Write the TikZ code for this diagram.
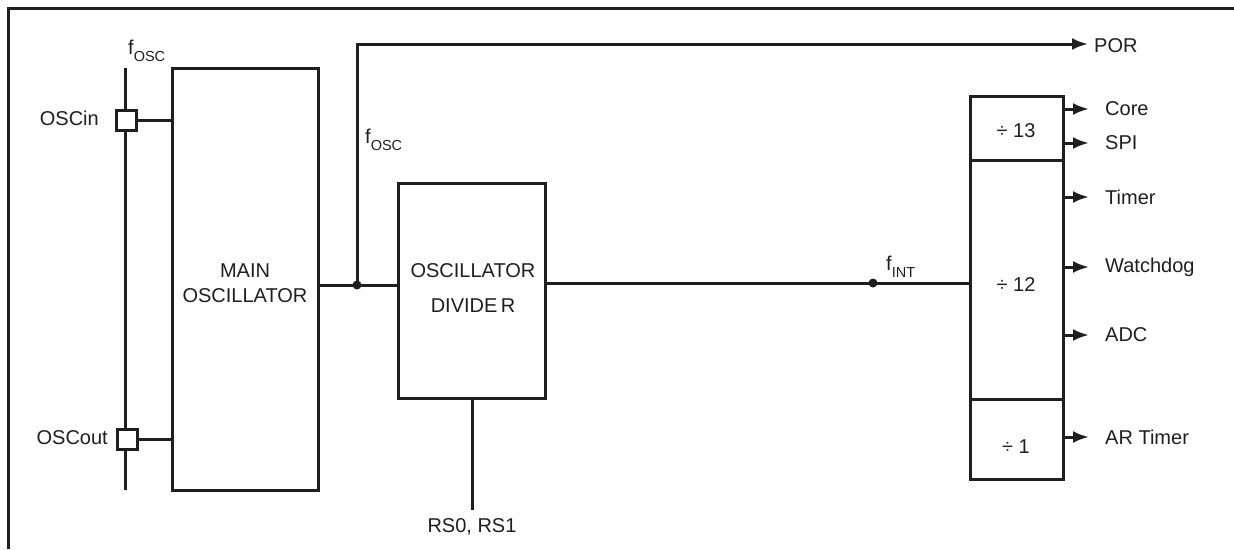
\documentclass[tikz,border=0pt]{standalone}
\usepackage{fontspec}
\setmainfont{Liberation Sans}
\usetikzlibrary{arrows.meta}
\begin{document}
\begin{tikzpicture}[x=1pt,y=-1pt,
  wire/.style={line width=3pt,color=black!88},
  blk/.style={draw=black!88,line width=3pt,rectangle,inner sep=0pt},
  lbl/.style={inner sep=0pt,text=black!88,font=\fontsize{20}{23}\selectfont},
  pin/.style={draw=black!88,line width=3pt,fill=white,minimum width=20pt,minimum height=20pt,inner sep=0pt},
  outarr/.style={wire,-{Latex[length=16pt,width=12pt]}},
  dot/.style={circle,fill=black!88,inner sep=0pt,minimum size=9pt}]
\newcommand{\sbs}[1]{\raisebox{-0.35em}{\fontsize{14.5}{16}\selectfont #1}}
\useasboundingbox (0,0) rectangle (1234,549);
% frame
\draw[wire,line width=3pt] (8,549) -- (8,8) -- (1234,8);
% oscillator pin line
\coordinate (vt) at (125,68);
\coordinate (vb) at (125,490);
\draw[wire] (vt) -- (vb);
\node[lbl,anchor=south west] (fosc1) at (128,62) {f\sbs{OSC}};
% main oscillator
\node[blk,minimum width=146pt,minimum height=422pt] (main) at (245,279) {};
\node[lbl,align=center] (maintxt) at (245,283) {MAIN\\[2pt]OSCILLATOR};
% pins
\node[pin] (oscin) at (126,120) {};
\node[pin] (oscout) at (127,439) {};
\draw[wire] (oscin.east) -- (oscin.east -| main.west);
\draw[wire] (oscout.east) -- (oscout.east -| main.west);
\node[lbl,anchor=east] (oscinl) at (99,118) {OSCin};
\node[lbl,anchor=east] (oscoutl) at (108,438) {OSCout};
% divider
\node[blk,minimum width=147pt,minimum height=215pt] (div) at (471.5,290.5) {};
\node[lbl] (divt1) at (473,271) {OSCILLATOR};
\node[lbl] (divt2) at (473,306) {DIVIDE\,R};
\node[dot] (d1) at (357,285) {};
\draw[wire] (main.east |- d1) -- (div.west |- d1);
% POR
\coordinate (porend) at (1088,44);
\draw[outarr] (d1.center) -- (357,44) -- (porend);
\node[lbl,anchor=west] (por) at (1094,46) {POR};
\node[lbl,anchor=south west] (fosc2) at (365,151) {f\sbs{OSC}};
% RS
\coordinate (rsend) at (472,510);
\draw[wire] (472,398) -- (rsend);
\node[lbl] (rs) at (472,527) {RS0, RS1};
% right block
\node[blk,minimum width=93pt,minimum height=383pt] (rb) at (1016.5,287.5) {};
\draw[wire] (970,160) -- (1063,160);
\draw[wire] (970,399) -- (1063,399);
\node[lbl] (d13) at (1016,131) {÷ 13};
\node[lbl] (d12) at (1016,285) {÷ 12};
\node[lbl] (d1l) at (1016,447) {÷ 1};
% fint
\node[dot] (d2) at (873,283) {};
\draw[wire] (div.east |- d2) -- (rb.west |- d2);
\node[lbl,anchor=south west] (fint) at (886,278) {f\sbs{INT}};
% outputs
\foreach \y/\t/\n in {109/Core/core,143/SPI/spi,197/Timer/timer,267/Watchdog/wd,335/ADC/adc,437/AR Timer/art}{
  \coordinate (\n s) at (1063,\y);
  \coordinate (\n e) at (1089,\y);
  \draw[outarr] (\n s) -- (\n e);
  \node[lbl,anchor=west] (\n) at (1105,\y) {\t};
}
\end{tikzpicture}
\end{document}
